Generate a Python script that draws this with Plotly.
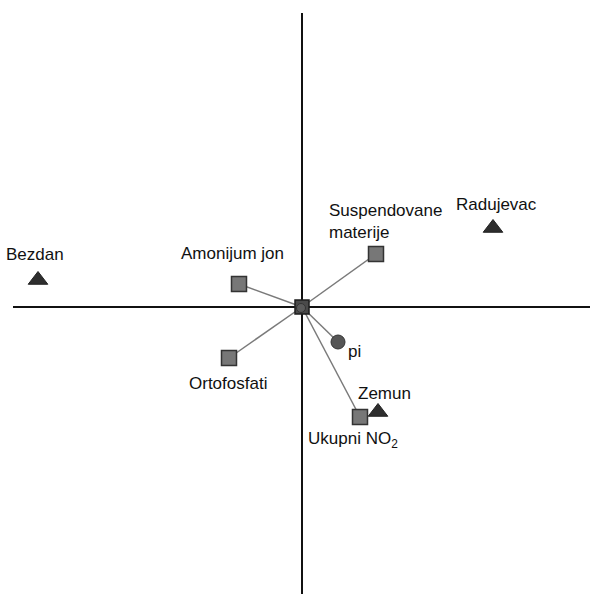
import plotly.graph_objects as go

# Variables (squares) projected on the first two factors
var_names = ["Amonijum jon", "Suspendovane<br>materije", "Ortofosfati", "Ukupni NO<sub>2</sub>"]
var_x = [-0.63, 0.74, -0.73, 0.58]
var_y = [0.23, 0.53, -0.51, -1.10]

# Supplementary variable (circle)
sup_names = ["pi"]
sup_x = [0.36]
sup_y = [-0.35]

# Sampling sites (triangles)
site_names = ["Bezdan", "Radujevac", "Zemun"]
site_x = [-2.64, 1.91, 0.76]
site_y = [0.27, 0.79, -1.05]

# Label offsets (in axis units) and text anchors
var_lab = [(-0.07, 0.31, "center", "middle"), (-0.49, 0.33, "left", "middle"),
           (-0.01, -0.25, "center", "middle"), (-0.07, -0.23, "center", "middle")]
sup_lab = [(0.08, -0.09, "left", "middle")]
site_lab = [(-0.03, 0.26, "center", "middle"), (0.03, 0.24, "center", "middle"),
            (0.06, 0.19, "center", "middle")]

fig = go.Figure()

# Loading vectors from the origin
for xs, ys in ((var_x, var_y), (sup_x, sup_y)):
    for x, y in zip(xs, ys):
        fig.add_trace(go.Scatter(x=[0, x], y=[0, y], mode="lines",
                                 line=dict(color="#7a7a7a", width=1.5),
                                 hoverinfo="skip", showlegend=False))

fig.add_trace(go.Scatter(x=var_x, y=var_y, mode="markers",
                         marker=dict(symbol="square", size=15, color="#777777",
                                     line=dict(color="#333333", width=1.5)),
                         text=var_names, showlegend=False))
fig.add_trace(go.Scatter(x=sup_x, y=sup_y, mode="markers",
                         marker=dict(symbol="circle", size=14, color="#555555",
                                     line=dict(color="#333333", width=1)),
                         text=sup_names, showlegend=False))
fig.add_trace(go.Scatter(x=site_x, y=site_y, mode="markers",
                         marker=dict(symbol="triangle-up", size=17, color="#2e2e2e",
                                     line=dict(color="#222222", width=1)),
                         text=site_names, showlegend=False))

# Origin marker
fig.add_trace(go.Scatter(x=[0], y=[0], mode="markers",
                         marker=dict(symbol="square", size=14, color="#4a4a4a",
                                     line=dict(color="#1e1e1e", width=1.5)),
                         hoverinfo="skip", showlegend=False))
fig.add_trace(go.Scatter(x=[-0.01], y=[-0.01], mode="markers",
                         marker=dict(symbol="circle", size=9, color="#5a5a5a",
                                     line=dict(color="#333333", width=1)),
                         hoverinfo="skip", showlegend=False))

annotations = []
for names, xs, ys, labs in ((var_names, var_x, var_y, var_lab),
                            (sup_names, sup_x, sup_y, sup_lab),
                            (site_names, site_x, site_y, site_lab)):
    for n, x, y, (dx, dy, xa, ya) in zip(names, xs, ys, labs):
        annotations.append(dict(x=x + dx, y=y + dy, text=n, showarrow=False,
                                xanchor=xa, yanchor=ya, align="left",
                                font=dict(family="Liberation Sans, Arial", size=17,
                                          color="#111111")))

fig.update_layout(
    width=590, height=594,
    margin=dict(l=0, r=0, t=0, b=0),
    paper_bgcolor="white", plot_bgcolor="white",
    xaxis=dict(range=[-3.02, 2.88], visible=False, fixedrange=True),
    yaxis=dict(range=[-2.87, 3.07], visible=False, fixedrange=True),
    annotations=annotations,
    shapes=[
        dict(type="line", x0=-2.89, x1=2.88, y0=0, y1=0, layer="below",
             line=dict(color="#111111", width=2)),
        dict(type="line", x0=0, x1=0, y0=2.94, y1=-2.87, layer="below",
             line=dict(color="#111111", width=2)),
    ],
)

fig.write_html("out.html")
